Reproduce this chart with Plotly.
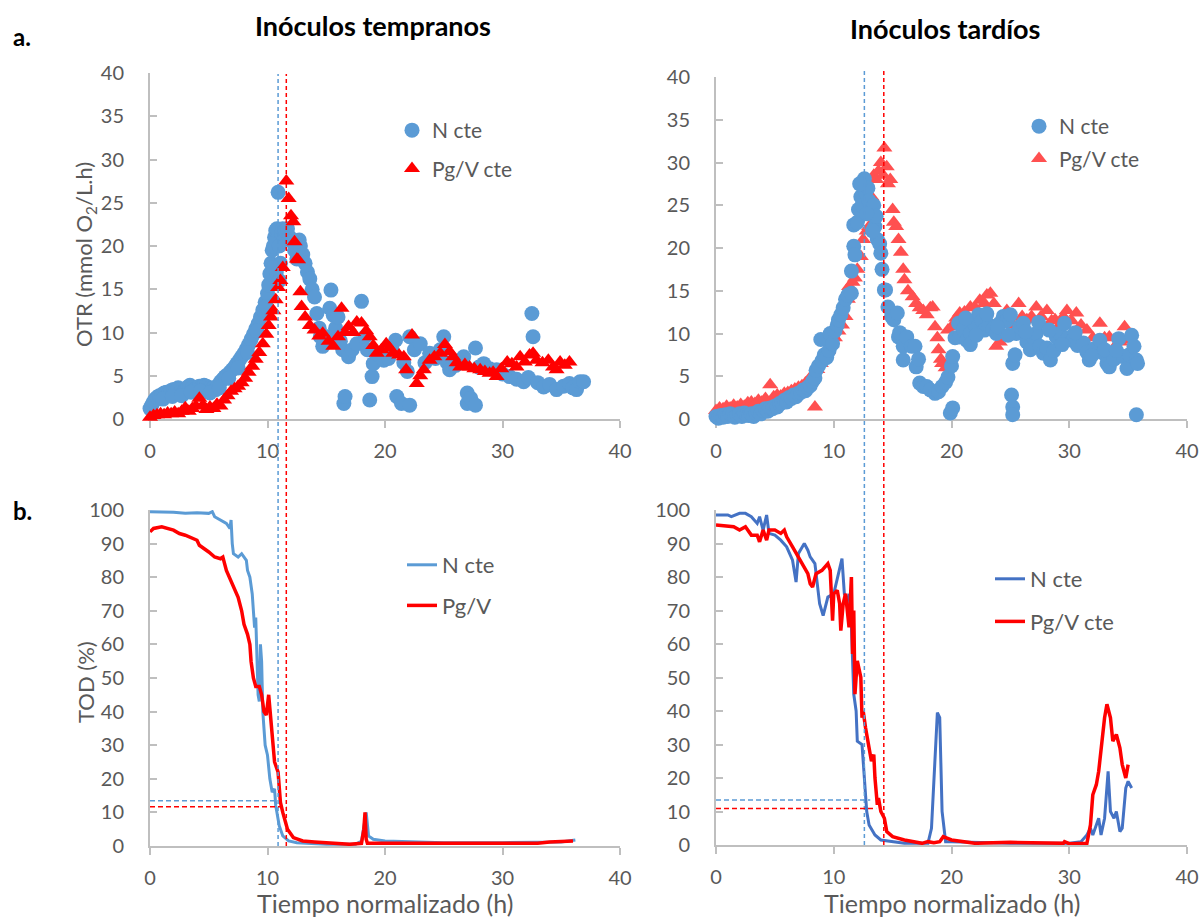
import plotly.graph_objects as go

# ---------------- DATA ----------------
# OTR, early inocula (Inóculos tempranos)
t_ea_n = [0.0, 0.15, 0.3, 0.45, 0.6, 0.8, 1.0, 1.2, 1.4, 1.6, 1.8, 2.0, 2.2, 2.4, 2.6, 2.8, 3.0, 3.2, 3.4, 3.6,
          3.8, 4.0, 4.2, 4.4, 4.6, 4.8, 5.0, 5.2, 5.4, 5.6, 5.8, 6.0, 6.2, 6.4, 6.6, 6.8, 7.0, 7.2, 7.4, 7.6,
          7.8, 8.0, 8.2, 8.4, 8.6, 8.8, 9.0, 9.2, 9.4, 9.6, 9.8, 10.0, 10.1, 10.2, 10.3, 10.4, 10.5, 10.6, 10.7, 10.75,
          10.8, 10.9, 11.0, 11.1, 11.2, 11.3, 11.5, 11.7, 11.9, 12.1, 12.3, 12.5, 12.7, 12.8, 13.0, 13.2, 13.4, 13.6, 13.8, 14.0,
          14.2, 14.4, 14.5, 14.7, 14.9, 15.1, 15.3, 15.4, 15.6, 15.8, 16.0, 16.2, 16.4, 16.5, 16.6, 16.9, 17.2, 17.6, 18.0, 18.3,
          18.5, 18.7, 18.9, 19.0, 19.4, 19.9, 20.3, 20.6, 20.9, 21.0, 21.4, 21.6, 21.9, 22.1, 22.1, 22.5, 23.0, 23.4, 23.8, 24.3,
          24.7, 25.0, 25.3, 25.5, 26.0, 26.4, 26.7, 27.0, 27.0, 27.3, 27.7, 27.7, 28.0, 28.4, 28.9, 29.5, 30.0, 30.6, 31.2, 31.8,
          32.2, 32.5, 32.6, 33.0, 33.5, 34.0, 34.6, 35.2, 35.7, 36.0, 36.3, 36.6, 36.9,
          1.1, 1.9, 2.7, 3.5, 4.3, 5.1, 5.9, 6.7, 7.5, 8.3, 9.1, 9.9, 10.5, 11.0]
otr_ea_n = [1.2, 1.6, 2.0, 2.3, 2.5, 2.7, 2.8, 3.0, 3.1, 3.0, 3.3, 3.4, 3.2, 3.6, 3.1, 3.0, 3.3, 3.7, 3.9, 3.6,
            3.4, 3.6, 3.8, 3.7, 3.9, 3.8, 3.5, 3.3, 3.6, 3.4, 3.9, 4.3, 4.6, 4.9, 5.1, 5.4, 5.7, 6.0, 6.4, 6.8,
            7.2, 7.6, 8.1, 8.6, 9.2, 9.8, 10.4, 11.0, 11.8, 12.6, 13.5, 14.5, 15.5, 16.8, 18.0, 19.5, 20.0, 21.0, 21.8, 17.0,
            22.0, 26.2, 20.0, 18.0, 21.5, 22.0, 21.8, 22.0, 21.0, 20.5, 19.5, 18.5, 20.7, 20.0, 19.0, 18.0, 17.0, 16.2, 15.0, 14.1,
            12.2, 10.5, 9.5, 8.4, 9.0, 9.5, 12.8, 14.9, 12.0, 10.5, 11.8, 9.0, 8.0, 1.8, 2.6, 7.2, 8.0, 8.7, 13.6, 9.5,
            8.0, 2.2, 4.9, 6.4, 7.5, 6.8, 7.0, 8.0, 9.1, 2.6, 1.8, 6.5, 5.5, 1.6, 9.5, 8.0, 8.7, 6.5, 7.6, 7.0,
            8.0, 9.5, 6.5, 5.7, 6.2, 6.8, 7.2, 3.0, 1.8, 2.4, 1.6, 8.2, 6.0, 6.4, 5.8, 5.7, 5.2, 4.9, 4.6, 4.3,
            4.8, 12.2, 9.5, 4.2, 3.7, 4.0, 3.4, 3.8, 4.1, 3.6, 3.4, 4.3, 4.3,
            2.3, 2.6, 2.7, 3.1, 3.2, 3.0, 3.6, 4.7, 5.9, 7.7, 10.2, 13.0, 17.5, 16.0]

t_ea_p = [0.0, 0.3, 0.6, 0.9, 1.2, 1.5, 1.8, 2.1, 2.4, 2.7, 3.0, 3.3, 3.6, 3.9, 4.2, 4.5, 4.8, 5.1, 5.4, 5.7,
          6.0, 6.3, 6.6, 6.9, 7.2, 7.5, 7.8, 8.1, 8.4, 8.7, 9.0, 9.3, 9.6, 9.9, 10.1, 10.3, 10.5, 10.7, 10.9, 11.1,
          11.3, 11.6, 11.8, 12.0, 12.2, 12.3, 12.5, 12.6, 12.8, 12.9, 13.2, 13.6, 14.0, 14.4, 14.7, 15.2, 15.6, 16.0, 16.3, 16.6,
          16.9, 17.3, 17.6, 18.0, 18.4, 18.7, 19.0, 19.3, 19.7, 20.1, 20.4, 20.7, 21.2, 21.6, 21.8, 22.3, 22.7, 23.0, 23.3, 23.8,
          24.2, 24.7, 25.1, 25.5, 25.8, 26.1, 26.4, 26.8, 27.2, 27.6, 28.1, 28.5, 28.9, 29.2, 29.5, 29.9, 30.4, 30.8, 31.2, 31.5,
          31.9, 32.3, 32.6, 32.9, 33.4, 33.9, 34.3, 34.6, 34.9, 35.3, 35.7]
otr_ea_p = [0.2, 0.4, 0.5, 0.6, 0.5, 0.7, 0.6, 0.8, 0.6, 0.9, 1.3, 0.9, 1.2, 1.5, 2.4, 1.6, 1.1, 1.4, 1.2, 1.7,
            1.5, 2.2, 2.7, 3.2, 3.5, 3.8, 4.2, 4.7, 5.4, 6.1, 6.9, 7.7, 8.7, 9.8, 10.8, 11.8, 12.5, 13.8, 15.2, 16.0,
            17.5, 27.5, 25.5, 23.5, 22.8, 20.5, 18.5, 18.4, 14.7, 13.0, 11.8, 10.8, 10.3, 9.6, 9.9, 9.0, 8.4, 9.5, 12.8, 10.0,
            10.7, 10.0, 11.2, 11.1, 10.2, 9.5, 8.5, 7.6, 8.0, 8.7, 8.2, 7.6, 7.4, 7.2, 5.7, 9.7, 4.1, 5.0, 5.7, 6.8,
            7.2, 7.6, 8.6, 7.8, 7.2, 6.5, 6.0, 6.3, 6.0, 5.8, 5.7, 5.5, 5.3, 5.4, 4.9, 5.8, 6.6, 6.4, 6.0, 7.2,
            6.6, 7.4, 7.6, 6.8, 6.5, 6.8, 6.0, 5.7, 6.6, 6.2, 6.6]

# OTR, late inocula (Inóculos tardíos)
t_la_n = [0.0, 0.2, 0.4, 0.6, 0.8, 1.0, 1.2, 1.4, 1.6, 1.8, 2.0, 2.2, 2.4, 2.6, 2.8, 3.0, 3.2, 3.4, 3.6, 3.8,
          4.0, 4.2, 4.4, 4.6, 4.8, 5.0, 5.2, 5.4, 5.6, 5.8, 6.0, 6.2, 6.4, 6.6, 6.8, 7.0, 7.2, 7.4, 7.6, 7.8,
          8.0, 8.2, 8.4, 8.5, 8.7, 8.9, 9.0, 9.2, 9.4, 9.6, 9.7, 9.9, 10.1, 10.3, 10.4, 10.6, 10.8, 11.0, 11.2, 11.5,
          11.5, 11.7, 11.8, 11.7, 12.0, 12.1, 12.3, 12.4, 12.6, 12.7, 12.9, 13.0, 13.2, 13.4, 13.5, 13.6, 13.7, 13.9, 14.0, 14.1,
          14.3, 14.4, 14.6, 14.9, 15.1, 15.4, 15.5, 15.6, 15.9, 15.9, 16.2, 16.6, 16.9, 17.0, 17.2, 17.3, 17.6, 17.9, 18.2, 18.6,
          18.9, 19.2, 19.5, 19.7, 19.9, 20.0, 20.1, 20.1, 20.3, 20.6, 20.7, 21.0, 21.3, 21.6, 21.6, 22.0, 22.3, 22.6, 22.8, 23.2,
          23.5, 23.8, 24.1, 24.4, 24.7, 25.0, 25.1, 25.2, 25.2, 25.2, 25.4, 25.5, 25.8, 26.1, 26.4, 26.7, 27.0, 27.2, 27.5, 27.8,
          28.1, 28.4, 28.7, 28.9, 29.2, 29.6, 29.9, 30.3, 30.7, 31.2, 31.5, 31.7, 32.1, 32.6, 32.9, 33.2, 33.4, 33.8, 34.2, 34.6,
          34.9, 35.1, 35.3, 35.5, 35.7, 35.8, 35.7,
          21.2, 22.1, 23.0, 23.9, 24.8, 26.3, 27.4, 28.3, 29.4, 30.5, 31.9, 33.0, 34.0, 12.2, 12.8, 13.3]
otr_la_n = [0.3, 0.1, 0.4, 0.2, 0.5, 0.3, 0.6, 0.5, 0.2, 0.4, 0.6, 0.3, 0.7, 0.5, 0.4, 0.6, 0.3, 0.7, 0.9, 0.6,
            1.0, 1.2, 0.9, 1.3, 1.2, 1.5, 1.4, 1.8, 1.9, 2.2, 2.0, 2.5, 2.4, 2.8, 2.6, 3.0, 3.1, 3.4, 3.3, 3.7,
            3.9, 4.4, 4.8, 5.7, 6.2, 9.3, 6.8, 7.5, 7.2, 8.0, 10.0, 8.8, 10.3, 11.0, 11.6, 12.2, 13.0, 14.0, 14.5, 14.7,
            17.3, 20.2, 19.2, 22.7, 23.0, 24.5, 26.0, 25.0, 28.1, 26.5, 27.0, 25.5, 24.0, 25.0, 22.5, 23.7, 21.0, 20.5, 19.4, 17.5,
            15.1, 15.1, 13.1, 12.0, 11.6, 12.4, 9.6, 10.1, 8.5, 6.9, 9.6, 8.5, 8.5, 6.1, 7.0, 4.2, 3.8, 3.8, 3.4, 3.0,
            3.2, 3.8, 4.3, 4.9, 0.7, 6.2, 1.3, 7.3, 9.5, 11.2, 9.6, 10.5, 9.2, 10.0, 8.7, 11.0, 12.2, 11.5, 10.4, 11.0,
            10.5, 10.0, 11.2, 12.0, 11.5, 12.2, 2.8, 1.4, 0.5, 6.5, 7.5, 10.0, 10.8, 11.2, 9.0, 8.1, 9.5, 10.0, 8.5, 7.7,
            8.3, 6.9, 8.0, 9.6, 10.0, 11.2, 9.5, 9.2, 8.6, 8.9, 7.8, 6.9, 8.2, 9.2, 7.7, 6.5, 6.1, 7.0, 9.4, 7.3,
            5.9, 7.5, 9.8, 8.5, 6.9, 6.5, 0.5,
            11.8, 9.8, 12.3, 10.8, 9.8, 10.2, 11.3, 10.4, 8.7, 10.1, 7.4, 8.1, 8.0, 27.5, 24.0, 22.0]

t_la_p = [0.0, 0.3, 0.6, 0.9, 1.2, 1.5, 1.8, 2.1, 2.4, 2.7, 3.0, 3.3, 3.6, 3.9, 4.2, 4.6, 4.9, 5.2, 5.5, 5.8,
          6.1, 6.4, 6.7, 7.0, 7.3, 7.6, 7.9, 8.2, 8.4, 8.6, 8.9, 9.2, 9.5, 9.8, 10.1, 10.4, 10.7, 11.0, 11.2, 11.3,
          11.6, 11.8, 12.0, 12.3, 12.5, 12.8, 13.0, 13.2, 13.4, 13.6, 13.8, 14.0, 14.2, 14.3, 14.5, 14.6, 14.8, 15.0, 15.1, 15.3,
          15.5, 15.7, 15.9, 16.0, 16.3, 16.7, 17.0, 17.3, 17.6, 17.9, 18.2, 18.4, 18.6, 18.8, 18.9, 19.1, 19.2, 19.5, 19.7, 20.0,
          20.4, 20.7, 21.1, 21.6, 22.0, 22.4, 22.8, 23.0, 23.3, 23.6, 23.8, 24.1, 24.4, 24.7, 25.0, 25.3, 25.7, 26.0, 26.4, 26.5,
          26.8, 27.2, 27.6, 28.1, 28.5, 28.8, 29.2, 29.5, 29.8, 30.2, 30.6, 31.0, 31.5, 32.0, 32.6, 33.0, 33.4, 33.9, 34.3, 34.7,
          35.1]
otr_la_p = [1.0, 1.3, 1.2, 1.5, 1.3, 1.6, 1.4, 1.7, 1.5, 1.9, 2.0, 1.8, 2.2, 2.0, 2.4, 4.0, 2.6, 2.8, 2.7, 3.0,
            3.1, 3.3, 3.5, 3.7, 3.9, 4.2, 4.6, 5.2, 1.4, 5.8, 6.5, 7.2, 8.0, 8.8, 9.5, 10.3, 11.0, 12.0, 14.0, 15.5,
            16.0, 16.5, 17.5, 19.0, 21.0, 22.0, 22.5, 26.0, 28.5, 28.0, 29.0, 30.0, 28.5, 31.7, 29.5, 27.5, 28.0, 24.5, 23.0, 22.5,
            21.0, 19.5, 17.5, 16.3, 15.0, 14.3, 13.5, 13.0, 12.7, 12.2, 13.0, 13.1, 10.8, 9.5, 8.1, 7.0, 6.5, 6.0, 10.4, 10.8,
            11.8, 12.4, 12.5, 13.1, 13.0, 13.9, 13.5, 14.5, 14.7, 13.5, 8.5, 9.0, 11.5, 12.7, 12.0, 11.0, 13.5, 12.0, 11.6, 9.5,
            12.0, 13.1, 12.0, 12.7, 11.5, 11.6, 11.0, 12.0, 12.7, 11.5, 12.4, 11.0, 10.4, 9.5, 11.2, 9.5, 9.6, 8.5, 9.0, 10.8,
            9.2]

# TOD, early inocula
t_tod_ea_n = [0, 1, 2, 3, 4, 5, 5.3, 5.5, 6, 6.5, 6.8, 6.9, 7.0, 7.1, 7.5, 7.8, 8.2, 8.3, 8.5, 8.7,
              8.8, 8.9, 9.0, 9.1, 9.2, 9.3, 9.4, 9.5, 9.6, 9.8, 10.0, 10.2, 10.4, 10.6, 10.7, 11.0, 11.3, 11.8, 12.5, 15,
              17.5, 18.0, 18.3, 18.4, 18.6, 19, 20, 25, 30, 33, 35, 36.2]
tod_ea_n = [99.5, 99.5, 99.3, 99.0, 99.2, 99.0, 99.5, 98.0, 97.0, 96.0, 94.5, 97.0, 90.0, 87.0, 86.0, 87.0, 85.0, 82.0, 80.0, 75.0,
            70.0, 65.0, 68.0, 55.0, 45.0, 43.0, 60.0, 55.0, 40.0, 30.0, 27.0, 20.0, 16.0, 17.0, 12.0, 6.0, 3.0, 1.5, 1.0, 0.5,
            0.5, 1.5, 9.0, 10.0, 3.0, 2.0, 1.5, 1.0, 1.0, 1.0, 1.2, 1.8]

t_tod_ea_p = [0, 0.3, 1, 2, 2.5, 3, 4, 4.2, 5, 5.5, 6, 6.2, 6.5, 7, 7.5, 7.8, 8.0, 8.3, 8.5, 8.6,
              8.8, 9.0, 9.3, 9.5, 9.7, 9.9, 10.1, 10.2, 10.4, 10.6, 10.9, 11.1, 11.3, 11.7, 12.2, 13, 14, 15, 16, 17,
              18, 18.2, 18.3, 18.4, 18.5, 20, 25, 30, 33, 34, 35, 35.5, 36]
tod_ea_p = [93.5, 94.5, 95.0, 94.0, 93.0, 92.5, 91.0, 89.5, 87.5, 86.0, 85.5, 86.0, 82.0, 78.0, 74.0, 70.0, 66.0, 63.0, 60.0, 55.0,
            50.0, 47.5, 47.5, 45.0, 40.0, 39.0, 45.0, 41.0, 34.0, 25.0, 22.0, 13.0, 10.0, 5.0, 2.5, 1.5, 1.2, 1.0, 0.8, 0.5,
            0.8, 5.0, 10.0, 2.0, 0.8, 0.8, 0.7, 0.6, 0.8, 1.2, 1.3, 1.5, 1.5]

# TOD, late inocula
t_tod_la_n = [0, 1, 1.3, 2, 2.5, 3, 3.5, 3.7, 4, 4.3, 4.5, 5, 5.5, 6, 6.5, 6.7, 6.8, 7, 7.5, 7.8,
              8, 8.4, 8.6, 8.8, 9.1, 9.5, 10, 10.5, 10.7, 10.9, 11.2, 11.3, 11.5, 11.6, 11.7, 11.9, 12, 12.4, 12.5, 12.7,
              12.8, 13, 13.5, 14, 15, 16, 17, 18, 18.3, 18.6, 18.8, 19.0, 19.2, 19.5, 20, 25, 30, 31, 31.5, 31.8,
              32, 32.5, 32.7, 33, 33.3, 33.5, 33.8, 34, 34.3, 34.5, 34.8, 35, 35.3]
tod_la_n = [98.5, 98.5, 98.0, 99.0, 99.0, 98.0, 96.0, 98.0, 94.0, 98.5, 93.0, 92.5, 91.0, 89.0, 85.0, 81.0, 78.5, 87.0, 90.0, 88.0,
            86.0, 84.0, 77.0, 72.0, 68.5, 74.0, 75.0, 83.0, 85.5, 75.0, 73.0, 75.0, 65.0, 55.0, 45.0, 40.0, 31.0, 30.0, 25.0, 14.0,
            10.0, 6.0, 3.0, 1.5, 1.0, 0.5, 0.5, 0.5, 5.0, 25.0, 39.5, 38.0, 10.0, 1.0, 1.0, 0.5, 0.5, 1.0, 3.0, 5.0,
            3.0, 8.0, 3.0, 8.0, 22.0, 10.0, 8.0, 10.0, 4.0, 5.0, 17.0, 19.0, 17.0]

t_tod_la_p = [0, 1, 1.5, 2, 2.5, 3, 3.5, 3.7, 4, 4.3, 4.5, 5, 5.5, 5.8, 6, 6.5, 7, 7.5, 7.8, 8,
              8.2, 8.5, 9, 9.5, 9.7, 9.9, 10, 10.3, 10.5, 10.6, 10.8, 11, 11.3, 11.5, 11.6, 11.7, 11.8, 12, 12.3, 12.4,
              12.5, 12.7, 13, 13.2, 13.4, 13.5, 13.7, 13.8, 14, 14.3, 14.5, 15, 16, 17, 17.5, 18, 18.5, 19, 19.3, 20,
              21, 22, 25, 28, 29.5, 29.6, 30, 31.5, 31.8, 32, 32.3, 32.5, 32.8, 33, 33.2, 33.5, 33.7, 34, 34.3, 34.5,
              34.8, 35]
tod_la_p = [95.5, 95.0, 95.0, 94.0, 95.0, 92.5, 92.5, 90.5, 94.0, 91.0, 94.0, 94.0, 93.0, 94.0, 92.0, 89.0, 86.0, 83.0, 81.0, 78.0,
            77.0, 81.0, 82.0, 84.0, 82.0, 67.0, 75.0, 76.0, 72.0, 64.0, 72.0, 75.0, 65.0, 80.0, 57.0, 70.0, 45.0, 55.0, 50.0, 38.0,
            40.0, 35.0, 28.0, 25.0, 27.0, 20.0, 12.0, 14.0, 10.0, 8.0, 4.0, 2.5, 1.5, 1.0, 0.5, 1.0, 0.7, 1.0, 2.5, 1.5,
            1.0, 0.5, 0.8, 0.5, 0.5, 1.0, 0.4, 0.5, 6.0, 15.0, 18.0, 22.0, 32.0, 38.0, 42.0, 38.0, 31.0, 33.0, 29.0, 24.0,
            20.0, 24.0]

# critical times (h) and critical TOD (%) : [N cte, Pg/V cte]
t_crit_early = [10.9, 11.6]
tod_crit_early = [13.5, 11.7]
t_hline_end_early = [10.7, 11.6]
t_crit_late = [12.6, 14.25]
tod_crit_late = [13.4, 10.9]
t_hline_end_late = [13.1, 13.6]

# ---------------- STYLE ----------------
FONT = "Lato"
GREY = "#595959"
AXC = "#BFBFBF"
BLUE = "#5B9BD5"
BLUE2 = "#4472C4"
RED = "#FF0000"
RED_L = "#FF5050"

fig = go.Figure()

# top-left
fig.add_trace(go.Scatter(x=t_ea_n, y=otr_ea_n, mode="markers", name="N cte",
                         marker=dict(symbol="circle", size=15, color=BLUE),
                         xaxis="x", yaxis="y", legend="legend", legendgroup="a1", cliponaxis=False))
fig.add_trace(go.Scatter(x=t_ea_p, y=otr_ea_p, mode="markers", name="Pg/V cte",
                         marker=dict(symbol="triangle-up", size=14, color=RED),
                         xaxis="x", yaxis="y", legend="legend", legendgroup="a2", cliponaxis=False))
# top-right (red drawn first, blue on top)
fig.add_trace(go.Scatter(x=t_la_p, y=otr_la_p, mode="markers", name="Pg/V cte",
                         marker=dict(symbol="triangle-up", size=14, color=RED_L),
                         xaxis="x2", yaxis="y2", legend="legend2", legendgroup="b2", legendrank=2,
                         cliponaxis=False))
fig.add_trace(go.Scatter(x=t_la_n, y=otr_la_n, mode="markers", name="N cte",
                         marker=dict(symbol="circle", size=15, color=BLUE),
                         xaxis="x2", yaxis="y2", legend="legend2", legendgroup="b1", legendrank=1,
                         cliponaxis=False))
# bottom-left
fig.add_trace(go.Scatter(x=t_tod_ea_n, y=tod_ea_n, mode="lines", name="N cte",
                         line=dict(color=BLUE, width=3), xaxis="x3", yaxis="y3",
                         legend="legend3", legendgroup="c1", cliponaxis=False))
fig.add_trace(go.Scatter(x=t_tod_ea_p, y=tod_ea_p, mode="lines", name="Pg/V",
                         line=dict(color=RED, width=3.5), xaxis="x3", yaxis="y3",
                         legend="legend3", legendgroup="c2", cliponaxis=False))
# bottom-right
fig.add_trace(go.Scatter(x=t_tod_la_n, y=tod_la_n, mode="lines", name="N cte",
                         line=dict(color=BLUE2, width=3), xaxis="x4", yaxis="y4",
                         legend="legend4", legendgroup="d1", cliponaxis=False))
fig.add_trace(go.Scatter(x=t_tod_la_p, y=tod_la_p, mode="lines", name="Pg/V cte",
                         line=dict(color=RED, width=3.5), xaxis="x4", yaxis="y4",
                         legend="legend4", legendgroup="d2", cliponaxis=False))


def px_x(p):
    return p / 1204.0


def px_y(p):
    return 1 - p / 920.0


tickfont = dict(family=FONT, size=20, color=GREY)
common = dict(showline=True, linecolor=AXC, linewidth=2, ticklen=7,
              tickcolor=AXC, tickwidth=2, showgrid=False, zeroline=False, tickfont=tickfont,
              layer="below traces", fixedrange=True, automargin=False)
xcommon = dict(range=[0, 40], dtick=10, ticks="outside", ticklabelstandoff=6, **common)
ycommon = dict(ticks="inside", ticklabelstandoff=20, **common)

xl = [px_x(150), px_x(620)]
xr = [px_x(716), px_x(1187)]

legfont = dict(family=FONT, size=21, color=GREY)
fig.update_layout(
    template="none",
    width=1204, height=920,
    margin=dict(l=0, r=0, t=0, b=0, pad=0, autoexpand=False),
    paper_bgcolor="white", plot_bgcolor="white",
    font=dict(family=FONT, color=GREY),
    xaxis=dict(domain=xl, anchor="y", **xcommon),
    yaxis=dict(domain=[px_y(419), px_y(73)], anchor="x", range=[0, 40], dtick=5, **ycommon),
    xaxis2=dict(domain=xr, anchor="y2", **xcommon),
    yaxis2=dict(domain=[px_y(419), px_y(77)], anchor="x2", range=[0, 40], dtick=5, **ycommon),
    xaxis3=dict(domain=xl, anchor="y3", **xcommon),
    yaxis3=dict(domain=[px_y(846), px_y(510)], anchor="x3", range=[0, 100], dtick=10, **ycommon),
    xaxis4=dict(domain=xr, anchor="y4", **xcommon),
    yaxis4=dict(domain=[px_y(845), px_y(510)], anchor="x4", range=[0, 100], dtick=10, **ycommon),
    legend=dict(x=px_x(392), y=px_y(110), xanchor="left", yanchor="top", bgcolor="rgba(0,0,0,0)",
                font=legfont, tracegroupgap=8, itemwidth=30),
    legend2=dict(x=px_x(1019), y=px_y(106), xanchor="left", yanchor="top", bgcolor="rgba(0,0,0,0)",
                 font=legfont, tracegroupgap=2, itemwidth=30),
    legend3=dict(x=px_x(402), y=px_y(544), xanchor="left", yanchor="top", bgcolor="rgba(0,0,0,0)",
                 font=dict(family=FONT, size=22, color=GREY), tracegroupgap=9, itemwidth=30),
    legend4=dict(x=px_x(990), y=px_y(558), xanchor="left", yanchor="top", bgcolor="rgba(0,0,0,0)",
                 font=dict(family=FONT, size=22, color=GREY), tracegroupgap=11, itemwidth=30),
)

# dashed critical lines
shapes = []
cols = [BLUE, RED]
for i in range(2):
    shapes.append(dict(type="line", xref="x", yref="paper", x0=t_crit_early[i], x1=t_crit_early[i],
                       y0=px_y(846), y1=px_y(74), line=dict(color=cols[i], width=1.5, dash="4px,3px")))
    shapes.append(dict(type="line", xref="x2", yref="paper", x0=t_crit_late[i], x1=t_crit_late[i],
                       y0=px_y(845), y1=px_y(69), line=dict(color=cols[i], width=1.5, dash="4px,3px")))
    shapes.append(dict(type="line", xref="x3", yref="y3", x0=0, x1=t_hline_end_early[i],
                       y0=tod_crit_early[i], y1=tod_crit_early[i],
                       line=dict(color=cols[i], width=1.5, dash="5px,3px")))
    shapes.append(dict(type="line", xref="x4", yref="y4", x0=0, x1=t_hline_end_late[i],
                       y0=tod_crit_late[i], y1=tod_crit_late[i],
                       line=dict(color=cols[i], width=1.5, dash="5px,3px")))
fig.update_layout(shapes=shapes)


def note(text, x, y, size, color, angle=0):
    return dict(text=text, x=px_x(x), y=px_y(y), xref="paper", yref="paper", xanchor="center",
                yanchor="middle", showarrow=False, textangle=angle,
                font=dict(family=FONT, size=size, color=color))


ann = [
    note("<b>Inóculos tempranos</b>", 373, 26, 27, "black"),
    note("<b>Inóculos tardíos</b>", 945, 29, 27, "black"),
    note("<b>a.</b>", 22, 36, 24, "black"),
    note("<b>b.</b>", 22, 510, 24, "black"),
    note("OTR (mmol O<sub>2</sub>/L.h)", 85, 255, 22, GREY, -90),
    note("TOD (%)", 85, 682, 22, GREY, -90),
    note("Tiempo normalizado (h)", 385, 903, 25, GREY),
    note("Tiempo normalizado (h)", 952, 903, 25, GREY),
]
fig.update_layout(annotations=ann)

fig.write_html("out.html")
